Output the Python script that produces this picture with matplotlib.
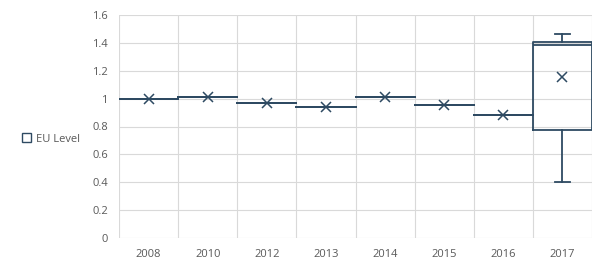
import matplotlib
matplotlib.use("Agg")
import matplotlib.pyplot as plt
from matplotlib.patches import Patch
from matplotlib.ticker import FuncFormatter

years = ["2008", "2010", "2012", "2013", "2014", "2015", "2016", "2017"]
whislo = [1.0, 1.011, 0.968, 0.938, 1.011, 0.951, 0.886, 0.40]
q1 = [1.0, 1.011, 0.968, 0.938, 1.011, 0.951, 0.886, 0.774]
med = [1.0, 1.011, 0.968, 0.938, 1.011, 0.951, 0.886, 1.384]
q3 = [1.0, 1.011, 0.968, 0.938, 1.011, 0.951, 0.886, 1.403]
whishi = [1.0, 1.011, 0.968, 0.938, 1.011, 0.951, 0.886, 1.463]
mean = [1.0, 1.011, 0.968, 0.938, 1.011, 0.951, 0.886, 1.152]
series_name = "EU Level"
yticks = [0, 0.2, 0.4, 0.6, 0.8, 1.0, 1.2, 1.4, 1.6]

color = "#2E4A62"
txt = "#595959"
plt.rcParams['font.family'] = ['Open Sans', 'DejaVu Sans']

fig = plt.figure(figsize=(6.02, 2.78), dpi=100)
ax = fig.add_axes([119/602, 40/278, (592-119)/602, (238-15)/278])

stats = []
for i, y in enumerate(years):
    stats.append(dict(label=y, whislo=whislo[i], q1=q1[i], med=med[i],
                      q3=q3[i], whishi=whishi[i], mean=mean[i], fliers=[]))

pos = list(range(len(years)))
ax.bxp(stats, positions=pos, widths=1.0, showmeans=True,
       boxprops=dict(color=color, linewidth=1.3),
       medianprops=dict(color=color, linewidth=1.3),
       whiskerprops=dict(color=color, linewidth=1.3),
       capprops=dict(color=color, linewidth=1.3),
       meanprops=dict(marker='x', markeredgecolor=color, markersize=6.5, markeredgewidth=1.1),
       capwidths=0.25, zorder=3)

ax.set_xlim(-0.5, len(years) - 0.5)
ax.set_ylim(0, 1.6)
ax.set_yticks(yticks)
ax.yaxis.set_major_formatter(FuncFormatter(lambda v, p: "%g" % round(v, 1)))
ax.set_xticks(pos)
ax.set_xticklabels(years)
ax.set_xticks([p + 0.5 for p in pos[:-1]] + [-0.5, len(years) - 0.5], minor=True)
ax.grid(True, axis='y', which='major', color="#D9D9D9", linewidth=0.8)
ax.grid(True, axis='x', which='minor', color="#D9D9D9", linewidth=0.8)
ax.tick_params(axis='both', which='both', length=0, labelsize=8, colors=txt)
ax.tick_params(axis='x', pad=8)
ax.tick_params(axis='y', pad=8)
for s in ax.spines.values():
    s.set_visible(False)
ax.set_axisbelow(True)

handle = Patch(facecolor='white', edgecolor=color, linewidth=1.0)
fig.legend([handle], [series_name], loc='center left', bbox_to_anchor=(12/602, 139/278),
           frameon=False, fontsize=8, labelcolor=txt, handlelength=0.8,
           handleheight=0.8, handletextpad=0.5)

fig.savefig("out.png", dpi=100)
